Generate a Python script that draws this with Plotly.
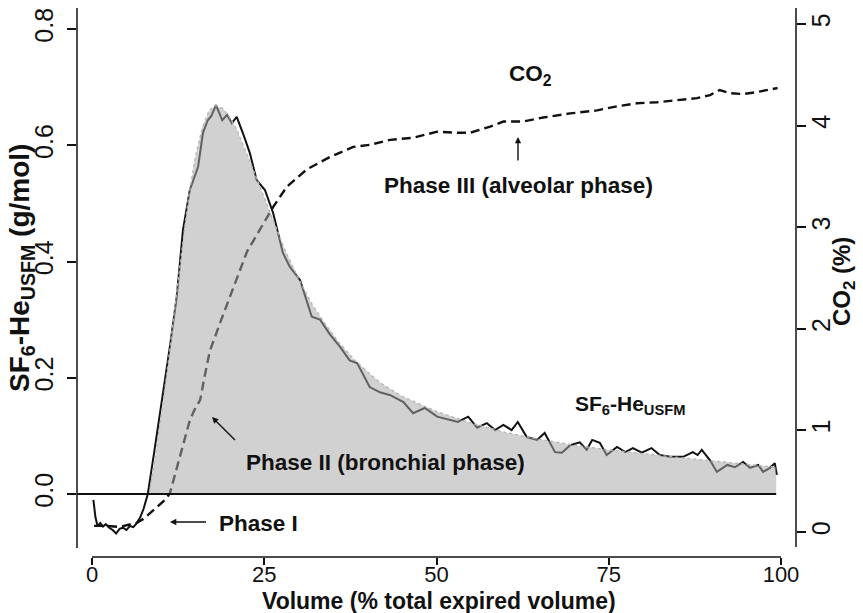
import plotly.graph_objects as go

# ---------------- data ----------------
sf6_x = [0.2, 0.5, 0.8, 1.2, 1.6, 2.0, 2.5, 3.0, 3.5, 4.0, 4.5, 5.0, 5.5, 6.0, 6.5, 7.0, 7.5, 8.1,
         9.0, 9.9, 10.6, 11.3, 12.3, 13.2, 14.2, 15.4, 16.1, 16.8, 17.3, 18.0, 18.9, 19.6, 20.3, 21.0,
         21.9, 22.9, 23.9, 25.1, 26.3, 27.7, 28.7, 30.2, 31.9, 33.1, 34.5, 36.0, 37.4, 38.5, 40.3,
         41.8, 43.3, 45.2, 46.6, 48.3, 50.1, 52.0, 53.1, 54.6, 55.9, 57.3, 58.5, 59.7, 60.9, 61.8,
         63.1, 64.6, 65.7, 67.2, 68.2, 69.4, 70.8, 71.8, 72.6, 73.7, 74.7, 76.2, 77.4, 78.5, 79.8,
         81.2, 82.4, 83.9, 85.8, 87.2, 87.9, 88.5, 89.7, 90.7, 92.2, 93.3, 94.5, 95.5, 96.7, 97.4,
         98.4, 99.1, 99.4]
sf6_y = [-0.010, -0.040, -0.055, -0.050, -0.056, -0.052, -0.058, -0.062, -0.068, -0.060, -0.058,
         -0.062, -0.055, -0.057, -0.050, -0.040, -0.025, 0.000,
         0.070, 0.139, 0.200, 0.253, 0.339, 0.454, 0.523, 0.563, 0.621, 0.643, 0.650, 0.669, 0.643,
         0.652, 0.638, 0.649, 0.621, 0.587, 0.540, 0.523, 0.483, 0.415, 0.391, 0.368, 0.305, 0.300,
         0.275, 0.253, 0.230, 0.225, 0.184, 0.175, 0.170, 0.158, 0.139, 0.148, 0.133, 0.127, 0.124,
         0.133, 0.114, 0.122, 0.110, 0.119, 0.110, 0.124, 0.098, 0.093, 0.105, 0.072, 0.071, 0.084,
         0.089, 0.076, 0.093, 0.088, 0.067, 0.081, 0.072, 0.079, 0.071, 0.079, 0.067, 0.064, 0.064,
         0.072, 0.067, 0.076, 0.058, 0.038, 0.050, 0.046, 0.055, 0.045, 0.050, 0.038, 0.045, 0.053,
         0.033]

fit_x = [8.3, 9, 10, 11, 12, 13, 14, 15, 16, 17, 18, 19, 20, 21, 22, 23, 24, 25, 26, 27, 28, 29, 30,
         32, 34, 36, 38, 40, 42, 45, 50, 55, 60, 65, 70, 75, 80, 85, 90, 95, 99.3]
fit_y = [0.0, 0.05, 0.13, 0.22, 0.32, 0.42, 0.51, 0.58, 0.63, 0.66, 0.668, 0.663, 0.648, 0.627,
         0.600, 0.570, 0.540, 0.510, 0.480, 0.450, 0.420, 0.395, 0.370, 0.325, 0.290, 0.258, 0.232,
         0.210, 0.190, 0.168, 0.142, 0.122, 0.106, 0.094, 0.084, 0.076, 0.069, 0.063, 0.057, 0.051,
         0.046]

co2_x = [0.3, 2.0, 4.0, 5.5, 6.5, 7.5, 8.5, 9.5, 10.5, 11.3, 12.0, 12.8, 13.5, 14.2, 15.0, 15.7,
         16.4, 17.1, 18.6, 19.6, 21.0, 22.5, 24.4, 26.3, 28.3, 31.2, 34.5, 37.9, 40.3, 43.3, 46.6,
         50.1, 53.0, 54.9, 57.8, 59.7, 62.6, 65.5, 69.4, 73.3, 76.2, 79.1, 82.0, 84.9, 87.8, 89.7,
         91.1, 92.6, 94.5, 96.5, 98.4, 99.5]
co2_y = [0.06, 0.06, 0.05, 0.07, 0.09, 0.13, 0.19, 0.25, 0.31, 0.38, 0.55, 0.74, 0.92, 1.10, 1.22,
         1.30, 1.55, 1.78, 2.06, 2.24, 2.48, 2.76, 2.98, 3.20, 3.40, 3.57, 3.69, 3.79, 3.81, 3.86,
         3.88, 3.94, 3.93, 3.93, 3.99, 4.04, 4.04, 4.08, 4.12, 4.15, 4.19, 4.22, 4.23, 4.25, 4.27,
         4.30, 4.35, 4.32, 4.31, 4.33, 4.36, 4.37]

x_ticks = [0, 25, 50, 75, 100]
left_ticks = [0.0, 0.2, 0.4, 0.6, 0.8]
left_ticktext = ["0.0", "0.2", "0.4", "0.6", "0.8"]
right_ticks = [0, 1, 2, 3, 4, 5]

# ---------------- layout geometry ----------------
W, H = 863, 613
ML, MR, MT, MB = 77, 67, 8, 56
PW, PH = W - ML - MR, H - MT - MB


def px(xp):
    return (xp - ML) / PW


def py(yp):
    return (H - MB - yp) / PH


FONT = "Liberation Sans, Arial, sans-serif"
INK = "#111111"

fig = go.Figure()

# CO2 on base (right) axis
fig.add_trace(go.Scatter(x=co2_x, y=co2_y, mode="lines", yaxis="y",
                         line=dict(color=INK, width=2.4, dash="9px,5px"),
                         hoverinfo="skip", showlegend=False))
# SF6 measured
fig.add_trace(go.Scatter(x=sf6_x, y=sf6_y, mode="lines", yaxis="y2",
                         line=dict(color=INK, width=2.0),
                         hoverinfo="skip", showlegend=False))
# shaded area under fit (drawn on top, translucent)
fig.add_trace(go.Scatter(x=fit_x, y=fit_y, mode="lines", yaxis="y2", fill="tozeroy",
                         fillcolor="rgba(168,168,168,0.53)", line=dict(width=0),
                         hoverinfo="skip", showlegend=False))
# fitted curve
fig.add_trace(go.Scatter(x=fit_x, y=fit_y, mode="lines", yaxis="y2",
                         line=dict(color="#b5b5b5", width=1.3, dash="dot"),
                         hoverinfo="skip", showlegend=False))

xr = [(ML - 92) / 6.89, (ML + PW - 92) / 6.89]
fig.update_layout(
    width=W, height=H,
    margin=dict(l=ML, r=MR, t=MT, b=MB, pad=0),
    paper_bgcolor="white", plot_bgcolor="white",
    font=dict(family=FONT, color=INK),
    xaxis=dict(range=xr, tickvals=x_ticks, ticks="outside", ticklen=7, tickwidth=1.5,
               tickcolor=INK, showline=False, showgrid=False, zeroline=False,
               ticklabelstandoff=-9,
               tickfont=dict(size=22, family=FONT, color=INK)),
    yaxis=dict(side="right", range=[-(557 - 532) / 101.6, 5 + (24 - 8) / 101.6],
               tickvals=right_ticks, ticks="outside", ticklen=9, tickwidth=1.5, tickcolor=INK,
               tickangle=-90, showline=False, showgrid=False, zeroline=False,
               ticklabelstandoff=-6,
               tickfont=dict(size=25, family=FONT, color=INK)),
    yaxis2=dict(side="left", overlaying="y",
                range=[-(557 - 494) / 581.25, 0.8 + (29 - 8) / 581.25],
                tickvals=left_ticks, ticktext=left_ticktext, ticks="outside", ticklen=9,
                tickwidth=1.5, tickcolor=INK, tickangle=-90, showline=False, showgrid=False,
                zeroline=False, ticklabelstandoff=4,
                tickfont=dict(size=25, family=FONT, color=INK)),
)

shapes = [
    dict(type="line", xref="paper", yref="paper", x0=0, x1=0, y0=py(548), y1=1,
         line=dict(color=INK, width=1.5)),
    dict(type="line", xref="paper", yref="paper", x0=1, x1=1, y0=py(547), y1=1,
         line=dict(color=INK, width=1.5)),
    dict(type="line", xref="x", yref="paper", x0=x_ticks[0], x1=x_ticks[-1], y0=0, y1=0,
         line=dict(color=INK, width=1.5)),
    dict(type="line", xref="x", yref="y2", x0=xr[0], x1=fit_x[-1], y0=0, y1=0,
         line=dict(color=INK, width=2), layer="above"),
]
fig.update_layout(shapes=shapes)

bold = dict(family=FONT, color=INK)
ann = []


def text(xp, yp, t, size=20, angle=0, xanchor="center"):
    ann.append(dict(xref="paper", yref="paper", x=px(xp), y=py(yp), text="<b>" + t + "</b>",
                    showarrow=False, font=dict(size=size, **bold), textangle=angle,
                    xanchor=xanchor, yanchor="middle", borderpad=0))


def arrow(hx, hy, dx, dy):
    ann.append(dict(xref="paper", yref="paper", x=px(hx), y=py(hy), text=" ", showarrow=True,
                    ax=dx, ay=dy, arrowhead=2, arrowsize=0.9, arrowwidth=1.4, arrowcolor=INK,
                    standoff=0, startstandoff=0, font=dict(size=2)))


text(439, 601, "Volume (% total expired volume)", size=23)
text(21, 268, "SF<sub>6</sub>-He<sub>USFM</sub> (g/mol)", size=28, angle=-90)
text(843, 282, "CO<sub>2</sub> (%)", size=24, angle=-90)
text(530, 75, "CO<sub>2</sub>", size=22.5)
text(518, 185, "Phase III (alveolar phase)", size=22.5)
text(630, 405, "SF<sub>6</sub>-He<sub>USFM</sub>", size=21)
text(385, 462, "Phase II (bronchial phase)", size=22.5)
text(218, 523, "Phase I", size=22.5, xanchor="left")
arrow(518, 137, 0, 26)
arrow(212, 417, 25, 25)
arrow(170, 522, 38, 0)

fig.update_layout(annotations=ann)

fig.write_html("out.html", config={"displayModeBar": False},
               post_script="document.body.style.margin='0';document.body.style.overflow='hidden';")
